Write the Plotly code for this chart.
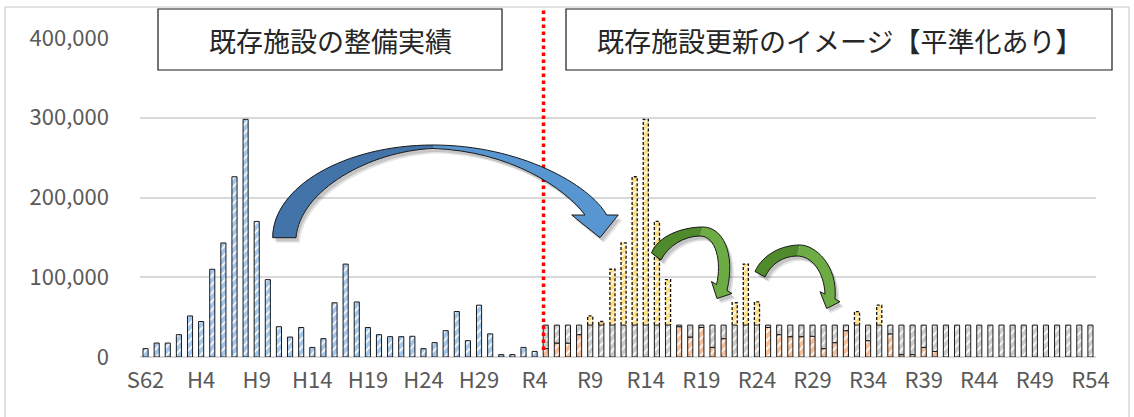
import plotly.graph_objects as go

# Fiscal years on the horizontal axis: Showa 62 through Reiwa 54
years = ["S62", "S63"] + [f"H{n}" for n in range(1, 31)] + [f"R{n}" for n in range(1, 55)]
tick_labels = years[::5]

# Floor area of facilities built each year, S62 - R4
built = [
    10500, 17500, 17500, 28000, 51500, 44500, 110000, 143000, 226000, 298000,
    170000, 97000, 38000, 25000, 37000, 12000, 23000, 68000, 116500, 69000,
    37000, 28000, 25500, 25500, 26000, 10500, 18000, 33000, 57000, 20500,
    65000, 29000, 3000, 3000, 12000, 7000,
]

# Renewal of each year's stock comes due this many years after construction
RENEWAL_LAG = 36
renewal = list(built)

# Leveled annual renewal amount from R5 onward
LEVEL = 40000

pos = list(range(len(years)))
built_pos = pos[:len(built)]
renew_pos = [p + RENEWAL_LAG for p in built_pos]
plan_pos = pos[len(built):]

# Inside the leveled plan: demand that fits under the level (orange) and the rest (grey)
under = [v if v < LEVEL else 0 for v in renewal]
under += [0] * (len(plan_pos) - len(under))
topped = [LEVEL - u for u in under]

BAR_W = 0.46
EDGE = "#1a1a1a"


def hatch(color):
    return dict(shape="/", fgcolor=color, bgcolor="white", size=6, solidity=0.72)


fig = go.Figure()

fig.add_trace(go.Bar(
    x=built_pos, y=built, width=BAR_W, name="整備実績",
    marker=dict(color="#4a90d9", pattern=hatch("#4a90d9"), line=dict(color=EDGE, width=1)),
))

# Renewal demand shown at full height; the part above the level is what gets moved
fig.add_trace(go.Bar(
    x=renew_pos, y=renewal, width=BAR_W, name="更新需要",
    marker=dict(color="#ffc000", pattern=hatch("#ffc000"), line=dict(width=0)),
))

fig.add_trace(go.Bar(
    x=plan_pos, y=under, width=BAR_W, name="更新（当該年度分）",
    marker=dict(color="#ed7d31", pattern=hatch("#ed7d31"), line=dict(color=EDGE, width=1)),
))

fig.add_trace(go.Bar(
    x=plan_pos, y=topped, base=under, width=BAR_W, name="更新（平準化分）",
    marker=dict(color="#999999", pattern=hatch("#999999"), line=dict(color=EDGE, width=1)),
))

# Dashed outline around the visible part of the renewal bars above the level
ox, oy = [], []
for p, v in zip(renew_pos, renewal):
    if v > LEVEL:
        l, r = p - BAR_W / 2, p + BAR_W / 2
        ox += [l, l, r, r, None]
        oy += [LEVEL, v, v, LEVEL, None]
fig.add_trace(go.Scatter(
    x=ox, y=oy, mode="lines", hoverinfo="skip", showlegend=False,
    line=dict(color="#111111", width=1.3, dash="3px,2px"),
))

# ---- layout geometry (pixels) used for the decorations ----
W, H = 1134, 417
ML, MR, MT, MB = 140, 38, 38, 60
PW, PH = W - ML - MR, H - MT - MB


def px(x):
    return (x - ML) / PW


def py(y):
    return (H - MB - y) / PH


def path(cmds, dx=0.0, dy=0.0):
    out = []
    for c in cmds:
        op, pts = c[0], c[1:]
        coords = " ".join(
            f"{px(pts[i] + dx):.5f},{py(pts[i + 1] + dy):.5f}" for i in range(0, len(pts), 2)
        )
        out.append(f"{op} {coords}".strip())
    return " ".join(out)


def arrow_shapes(left, right, full, dark, light):
    shapes = []
    for off, alpha in ((4, 0.10), (2.5, 0.14)):
        shapes.append(dict(type="path", xref="paper", yref="paper", path=path(full, off, off + 1),
                           fillcolor=f"rgba(0,0,0,{alpha})", line=dict(width=0), layer="above"))
    shapes.append(dict(type="path", xref="paper", yref="paper", path=path(left),
                       fillcolor=dark, line=dict(width=0), layer="above"))
    shapes.append(dict(type="path", xref="paper", yref="paper", path=path(right),
                       fillcolor=light, line=dict(width=0), layer="above"))
    shapes.append(dict(type="path", xref="paper", yref="paper", path=path(full),
                       fillcolor="rgba(0,0,0,0)", line=dict(color="#1a1a1a", width=1), layer="above"))
    return shapes


# Large blue arrow: built stock carried forward into the renewal period
b_left = [("M", 272.7, 237.7), ("C", 272.7, 186.7, 345, 145, 433, 145), ("L", 433, 148.5),
          ("C", 370, 151, 300, 190, 296, 237.7), ("Z",)]
b_right = [("M", 433, 145), ("C", 520, 145, 590, 185, 606.7, 215), ("L", 618.3, 215),
           ("L", 600, 237.7), ("L", 571.7, 215), ("L", 585, 215),
           ("C", 565, 188, 510, 151, 433, 148.5), ("Z",)]
b_full = [("M", 272.7, 237.7), ("C", 272.7, 186.7, 345, 145, 433, 145),
          ("C", 520, 145, 590, 185, 606.7, 215), ("L", 618.3, 215), ("L", 600, 237.7),
          ("L", 571.7, 215), ("L", 585, 215), ("C", 565, 188, 510, 151, 433, 148.5),
          ("C", 370, 151, 300, 190, 296, 237.7), ("Z",)]

# Small green arrows: peaks pushed back into later years
g1_left = [("M", 651.5, 253), ("C", 658, 236, 682, 227, 703, 227), ("L", 700, 236),
           ("C", 684, 236, 668, 246, 661, 260), ("Z",)]
g1_right = [("M", 703, 227), ("C", 722, 227, 736, 252, 727, 290.5), ("L", 732, 293.5),
            ("L", 717, 298.5), ("L", 711.5, 281.5), ("L", 716.5, 284.5),
            ("C", 722, 262, 716, 236, 700, 236), ("Z",)]
g1_full = [("M", 651.5, 253), ("C", 658, 236, 682, 227, 703, 227),
           ("C", 722, 227, 736, 252, 727, 290.5), ("L", 732, 293.5), ("L", 717, 298.5),
           ("L", 711.5, 281.5), ("L", 716.5, 284.5), ("C", 722, 262, 716, 236, 700, 236),
           ("C", 684, 236, 668, 246, 661, 260), ("Z",)]

g2_left = [("M", 755, 271.5), ("C", 763, 254, 782, 245, 800, 245), ("L", 797, 256),
           ("C", 783, 256, 771, 264, 765, 277), ("Z",)]
g2_right = [("M", 800, 245), ("C", 815, 245, 838, 265, 835, 299), ("L", 840, 301.7),
            ("L", 826.7, 308.5), ("L", 820, 291.7), ("L", 825, 294),
            ("C", 824, 272, 812, 256, 797, 256), ("Z",)]
g2_full = [("M", 755, 271.5), ("C", 763, 254, 782, 245, 800, 245),
           ("C", 815, 245, 838, 265, 835, 299), ("L", 840, 301.7), ("L", 826.7, 308.5),
           ("L", 820, 291.7), ("L", 825, 294), ("C", 824, 272, 812, 256, 797, 256),
           ("C", 783, 256, 771, 264, 765, 277), ("Z",)]

shapes = []
# chart frame
shapes.append(dict(type="line", xref="paper", yref="paper", x0=px(5), x1=px(1129), y0=py(7), y1=py(7),
                   line=dict(color="#d9d9d9", width=1.5), layer="below"))
shapes.append(dict(type="line", xref="paper", yref="paper", x0=px(5), x1=px(5), y0=py(7), y1=py(H + 5),
                   line=dict(color="#d9d9d9", width=1.5), layer="below"))
shapes.append(dict(type="line", xref="paper", yref="paper", x0=px(1129), x1=px(1129), y0=py(7), y1=py(H + 5),
                   line=dict(color="#d9d9d9", width=1.5), layer="below"))

# boundary between the record and the renewal plan
boundary = (len(built) - 0.2 + 0.5) / len(years)
shapes.append(dict(type="line", xref="paper", yref="paper", x0=boundary, x1=boundary,
                   y0=py(350), y1=py(10), line=dict(color="#ff0000", width=3.5, dash="dot"), layer="above"))

shapes += arrow_shapes(b_left, b_right, b_full, "#4273a9", "#5796d1")
shapes += arrow_shapes(g1_left, g1_right, g1_full, "#4f8a2c", "#6dab44")
shapes += arrow_shapes(g2_left, g2_right, g2_full, "#4f8a2c", "#6dab44")

# title boxes
boxes = [(158, 502, "既存施設の整備実績"), (566, 1112, "既存施設更新のイメージ【平準化あり】")]
annotations = []
for x0, x1, text in boxes:
    shapes.append(dict(type="rect", xref="paper", yref="paper", x0=px(x0), x1=px(x1),
                       y0=py(70), y1=py(9), fillcolor="white",
                       line=dict(color="#1a1a1a", width=1.2), layer="above"))
    annotations.append(dict(xref="paper", yref="paper", x=px((x0 + x1) / 2), y=py(40.5),
                            text=text, showarrow=False, xanchor="center", yanchor="middle",
                            font=dict(size=27, color="#262626",
                                      family="Noto Sans CJK JP, Noto Sans, sans-serif")))

fig.update_layout(
    width=W, height=H,
    margin=dict(l=ML, r=MR, t=MT, b=MB, pad=0),
    barmode="overlay",
    showlegend=False,
    plot_bgcolor="white", paper_bgcolor="white",
    font=dict(family="Noto Sans CJK JP, Noto Sans, sans-serif", color="#595959"),
    shapes=shapes,
    annotations=annotations,
    xaxis=dict(
        range=[-0.5, len(years) - 0.5],
        tickmode="array", tickvals=[years.index(t) for t in tick_labels], ticktext=tick_labels,
        showgrid=False, zeroline=False, showline=False, ticks="",
        tickfont=dict(size=22, color="#595959"), ticklabelstandoff=8,
    ),
    yaxis=dict(
        range=[0, 400000], tickvals=[0, 100000, 200000, 300000, 400000], tickformat=",",
        showgrid=True, gridcolor="#d9d9d9", gridwidth=1.5,
        zeroline=True, zerolinecolor="#d9d9d9", zerolinewidth=1.5,
        showline=False, ticks="",
        tickfont=dict(size=22, color="#595959"), ticklabelstandoff=30,
    ),
)

fig.write_html("out.html")
